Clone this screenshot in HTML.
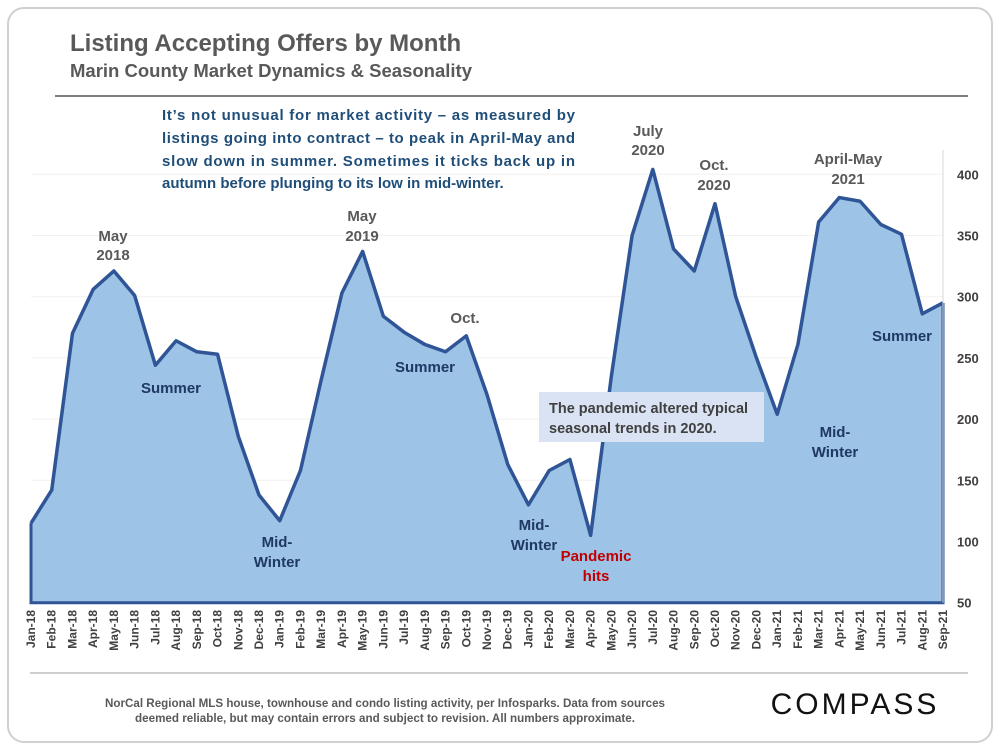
<!DOCTYPE html>
<html><head><meta charset="utf-8"><style>
body{margin:0;background:#fff;width:1000px;height:750px;overflow:hidden;font-family:"Liberation Sans",sans-serif}
</style></head><body>
<svg width="1000" height="750" viewBox="0 0 1000 750">
<rect x="8" y="8" width="984" height="734" rx="16" fill="#fff" stroke="#d0d0d0" stroke-width="2"/>
<text x="70" y="51" font-size="24" font-weight="bold" fill="#595959">Listing Accepting Offers by Month</text>
<text x="70" y="77" font-size="18.5" font-weight="bold" fill="#595959">Marin County Market Dynamics &amp; Seasonality</text>
<line x1="55" y1="96" x2="968" y2="96" stroke="#7f7f7f" stroke-width="2"/>
<g id="grid"></g>
<g id="area"></g>
<g id="yticks"></g>
<g id="xticks"></g>
<g font-size="15" font-weight="bold" fill="#1f4e79">
<text x="162" y="120" textLength="413" lengthAdjust="spacing">It’s not unusual for market activity – as measured by</text>
<text x="162" y="143" textLength="413" lengthAdjust="spacing">listings going into contract – to peak in April-May and</text>
<text x="162" y="166" textLength="413" lengthAdjust="spacing">slow down in summer. Sometimes it ticks back up in</text>
<text x="162" y="188">autumn before plunging to its low in mid-winter.</text>
</g>
<g font-size="15" font-weight="bold" text-anchor="middle">
<g fill="#595959">
<text x="113" y="241">May</text><text x="113" y="260">2018</text>
<text x="362" y="221">May</text><text x="362" y="241">2019</text>
<text x="465" y="323">Oct.</text>
<text x="648" y="136">July</text><text x="648" y="155">2020</text>
<text x="714" y="170">Oct.</text><text x="714" y="190">2020</text>
<text x="848" y="164">April-May</text><text x="848" y="184">2021</text>
</g>
<g fill="#1f3864">
<text x="171" y="393">Summer</text>
<text x="425" y="372">Summer</text>
<text x="902" y="341">Summer</text>
<text x="277" y="547">Mid-</text><text x="277" y="567">Winter</text>
<text x="534" y="530">Mid-</text><text x="534" y="550">Winter</text>
<text x="835" y="437">Mid-</text><text x="835" y="457">Winter</text>
</g>
<g fill="#c00000">
<text x="596" y="561">Pandemic</text><text x="596" y="581">hits</text>
</g>
</g>
<rect x="539" y="392" width="225" height="50" fill="#dae3f3"/>
<g font-size="14.5" font-weight="bold" fill="#404040">
<text x="549" y="413">The pandemic altered typical</text>
<text x="549" y="433">seasonal trends in 2020.</text>
</g>
<line x1="30" y1="673" x2="968" y2="673" stroke="#bfbfbf" stroke-width="1.5"/>
<g font-size="11.5" font-weight="bold" fill="#595959" text-anchor="middle">
<text x="385" y="707" textLength="560" lengthAdjust="spacingAndGlyphs">NorCal Regional MLS house, townhouse and condo listing activity, per Infosparks. Data from sources</text>
<text x="385" y="722" textLength="500" lengthAdjust="spacingAndGlyphs">deemed reliable, but may contain errors and subject to revision. All numbers approximate.</text>
</g>
<text x="855" y="714" font-size="30" fill="#111" text-anchor="middle" letter-spacing="3">COMPASS</text>
</svg>
<script>
const months=["Jan-18","Feb-18","Mar-18","Apr-18","May-18","Jun-18","Jul-18","Aug-18","Sep-18","Oct-18","Nov-18","Dec-18","Jan-19","Feb-19","Mar-19","Apr-19","May-19","Jun-19","Jul-19","Aug-19","Sep-19","Oct-19","Nov-19","Dec-19","Jan-20","Feb-20","Mar-20","Apr-20","May-20","Jun-20","Jul-20","Aug-20","Sep-20","Oct-20","Nov-20","Dec-20","Jan-21","Feb-21","Mar-21","Apr-21","May-21","Jun-21","Jul-21","Aug-21","Sep-21"];
const listings=[115,142,270,306,321,301,244,264,255,253,186,138,117,158,232,303,337,284,271,261,255,268,220,163,130,158,167,105,235,350,404,339,321,376,300,250,204,261,361,381,378,359,351,286,295];
const yTicks=[50,100,150,200,250,300,350,400];
const NS="http://www.w3.org/2000/svg";
const x0=31,x1=943,yb=602.7,yt=174.3,vmin=50,vmax=400;
function xs(i){return x0+i*(x1-x0)/(months.length-1);}
function ys(v){return yb-(v-vmin)*(yb-yt)/(vmax-vmin);}
function mk(t,a){const e=document.createElementNS(NS,t);for(const k in a)e.setAttribute(k,a[k]);return e;}
const grid=document.getElementById('grid'),yg=document.getElementById('yticks'),xg=document.getElementById('xticks'),ag=document.getElementById('area');
yTicks.forEach(v=>{
 if(v>vmin){const l=mk('line',{x1:x0,x2:x1,y1:ys(v),y2:ys(v),stroke:'#f0f0f0','stroke-width':1});
 
 
 grid.appendChild(l);}
 const t=mk('text',{x:957,y:ys(v)+5,'font-size':13,'font-weight':'bold',fill:'#404040'});
 t.textContent=v;
 
 
 yg.appendChild(t);
});
let d='M'+xs(0)+','+yb;
listings.forEach((v,i)=>{d+=' L'+xs(i)+','+ys(v);});
d+=' L'+xs(listings.length-1)+','+yb+' Z';
const area=mk('path',{d:d,fill:'#9dc3e6'});


ag.appendChild(area);
let ld='';listings.forEach((v,i)=>{ld+=(i?' L':'M')+xs(i)+','+ys(v);});
const line=mk('path',{d:ld,fill:'none',stroke:'#2f5597','stroke-width':3.5,'stroke-linejoin':'round'});


ag.appendChild(line);
const frame=mk('path',{d:'M'+x0+','+ys(listings[0])+' L'+x0+','+yb+' L'+x1+','+yb+' L'+x1+','+ys(listings[listings.length-1]),fill:'none',stroke:'#2f5597','stroke-width':3});


ag.appendChild(frame);
const ax=mk('line',{x1:x1,x2:x1,y1:150,y2:yb,stroke:'#d9d9d9','stroke-width':1});


yg.appendChild(ax);
months.forEach((m,i)=>{
 const t=mk('text',{x:0,y:0,'font-size':12,'font-weight':'bold',fill:'#404040','text-anchor':'end',transform:'translate('+(xs(i)+4)+',610) rotate(-90)'});
 t.textContent=m;
 
 
 xg.appendChild(t);
});
</script>
</body></html>
